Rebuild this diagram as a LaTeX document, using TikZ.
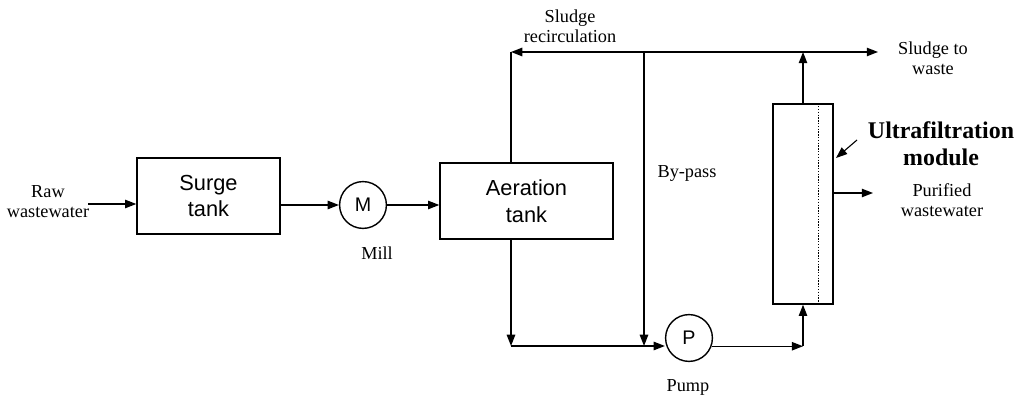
\documentclass[tikz,border=0pt]{standalone}
\usepackage{fontspec}
\setmainfont{Liberation Serif}
\newfontfamily\unitfont{Liberation Sans}
\usetikzlibrary{arrows.meta,positioning,calc}

\begin{document}
\begin{tikzpicture}[x=0.025cm,y=-0.025cm,>={Triangle[length=8pt,width=6pt]},line width=1pt,
 unit/.style={draw,rectangle,inner sep=0pt,align=center,font=\unitfont\fontsize{15.5}{19}\selectfont},
 drive/.style={draw,circle,minimum size=1.17cm,inner sep=0pt,font=\unitfont\fontsize{14}{16}\selectfont},
 lbl/.style={align=center,inner sep=0pt,font=\fontsize{13}{14.2}\selectfont}]
\useasboundingbox (0,0) rectangle (1024,398);
% Process units.
\node[unit,minimum width=3.575cm,minimum height=1.9cm] (surge) at (208.5,196) {Surge\\tank};
\node[drive] (mill) at (363,205) {M};
\node[unit,minimum width=4.325cm,minimum height=1.9cm] (aer) at (526.5,201) {Aeration\\tank};
\node[drive] (pump) at (689,338) {P};
\node[draw,rectangle,inner sep=0pt,minimum width=1.5cm,minimum height=5cm] (uf) at (803,204) {};
\draw[densely dotted] ([xshift=-0.375cm]uf.north east) -- ([xshift=-0.375cm]uf.south east);
% Labels.
\node[lbl] (rawlbl) at (48,202) {Raw\\wastewater};
\node[lbl] (milllbl) at (377,253) {Mill};
\node[lbl] (pumplbl) at (688,387) {Pump};
\node[lbl] (reclbl) at (570,26) {Sludge\\recirculation};
\node[lbl] (byplbl) at (687,173) {By-pass};
\node[lbl] (wastelbl) at (933,58) {Sludge to\\waste};
\node[lbl] (purlbl) at (942,200) {Purified\\wastewater};
\node[align=center,inner sep=0pt,font=\bfseries\fontsize{17}{19}\selectfont] (uflbl) at (941,144) {Ultrafiltration\\module};
% Junctions and free ends.
\coordinate (rawin) at (88,204);
\coordinate (rec) at (511,52);
\coordinate (byp) at (644,52);
\coordinate (waste) at (878,52);
\coordinate (bl) at (511,346);
\coordinate (bypend) at (644,346);
\coordinate (pur) at (873,193);
\coordinate (ufptr) at (857,140);
\coordinate (ufin) at (uf.south |- pump.-20);
% Main line.
\draw[->] (rawin) -- (rawin -| surge.west);
\draw[->] (surge.east |- mill) -- (mill.west);
\draw[->] (mill.east) -- (mill.east -| aer.west);
% Sludge recirculation and waste.
\draw (aer.north -| rec) -- (rec);
\draw[<->] (rec) -- (waste);
\draw[->] (uf.north) -- (uf.north |- rec);
\draw[->] (byp) -- (bypend);
% Feed to the module.
\draw[->] (aer.south -| bl) -- (bl);
\draw[->] (bl) -- (bl -| pump.west);
\draw[->] (pump.-20) -- (ufin);
\draw[->] (ufin) -- (uf.south);
\draw[->] (pur -| uf.east) -- (pur);
\draw[->,line width=0.8pt] (ufptr) -- (836,158);
\end{tikzpicture}
\end{document}
